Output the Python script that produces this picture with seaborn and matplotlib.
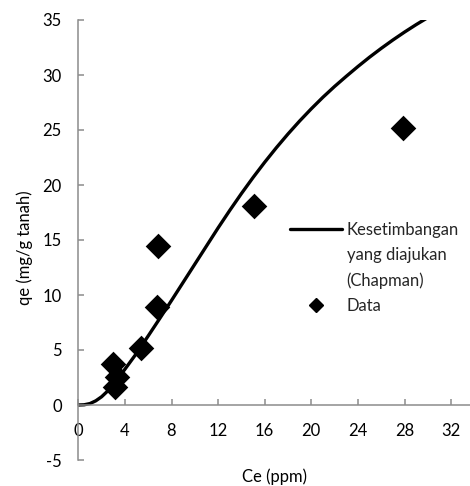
import numpy as np
import pandas as pd
import seaborn as sns
import matplotlib.pyplot as plt
from matplotlib.lines import Line2D

# Measured equilibrium data
ce_data = [2.98, 3.12, 3.32, 5.35, 6.73, 6.87, 15.08, 27.85]
qe_data = [3.7, 1.67, 2.57, 5.2, 8.94, 14.45, 18.1, 25.15]

# Proposed equilibrium curve (Chapman)
ce_model = [0.0, 0.5, 1.0, 1.5, 2.0, 2.5, 3.0, 3.5, 4.0, 5.0, 6.0, 7.0, 8.0,
            9.0, 10.0, 11.0, 12.0, 13.0, 14.0, 15.0, 16.0, 17.0, 18.0, 19.0,
            20.0, 21.0, 22.0, 23.0, 24.0, 25.0, 26.0, 27.0, 28.0, 29.0, 30.0,
            31.0]
qe_model = [0.0, 0.02, 0.13, 0.38, 0.75, 1.25, 1.85, 2.55, 3.25, 4.7, 6.28,
            7.88, 9.5, 11.15, 12.8, 14.45, 16.1, 17.69, 19.22, 20.68, 22.07,
            23.39, 24.64, 25.82, 26.93, 27.98, 28.96, 29.88, 30.77, 31.62,
            32.42, 33.18, 33.9, 34.58, 35.22, 35.82]

x_ticks = [0, 4, 8, 12, 16, 20, 24, 28, 32]
y_ticks = [-5, 0, 5, 10, 15, 20, 25, 30, 35]

model_df = pd.DataFrame({"Ce": ce_model, "qe": qe_model})
data_df = pd.DataFrame({"Ce": ce_data, "qe": qe_data})

sns.set_theme(style="white")
plt.rcParams['font.family'] = ['Lato', 'DejaVu Sans']
plt.rcParams['axes.unicode_minus'] = False

W, H = 470, 486
fig = plt.figure(figsize=(W / 100, H / 100), dpi=100)
ax = fig.add_axes([78.3 / W, 26 / H, 1 - 78.3 / W, 440 / H])

sns.lineplot(data=model_df, x="Ce", y="qe", sort=False, estimator=None,
             color="black", linewidth=2.4, ax=ax, legend=False)
sns.scatterplot(data=data_df, x="Ce", y="qe", marker="D", s=170,
                color="black", edgecolor="black", linewidth=0, ax=ax,
                legend=False, zorder=3)

ax.set_xlim(0, (W - 78.3) / 11.65)
ax.set_ylim(-5, 35)
ax.set_xticks(x_ticks)
ax.set_yticks(y_ticks)

axis_grey = "#8c8c8c"
for side in ("top", "right"):
    ax.spines[side].set_visible(False)
ax.spines["bottom"].set_position(("data", 0))
for side in ("left", "bottom"):
    ax.spines[side].set_color(axis_grey)
    ax.spines[side].set_linewidth(1.1)

ax.tick_params(axis="both", direction="in", length=4.5, width=1.1,
               color=axis_grey, labelsize=12, labelcolor="black")
ax.tick_params(axis="y", pad=12)
ax.tick_params(axis="x", pad=13)
ax.tick_params(axis="both", left=True, bottom=True)

ax.set_xlabel("Ce (ppm)", fontsize=12, color="black", va="center")
ax.set_ylabel("qe (mg/g tanah)", fontsize=12, color="black", va="center")
ax.xaxis.set_label_coords(0.5, -0.038)
ax.yaxis.set_label_coords(-0.136, 0.482)

blank = Line2D([], [], linestyle="none", marker=None)
handles = [Line2D([], [], color="black", linewidth=2.4), blank, blank,
           Line2D([], [], color="black", marker="D", linestyle="none",
                  markersize=7.5)]
labels = ["Kesetimbangan", "yang diajukan", "(Chapman)", "Data"]
fig.legend(handles, labels, loc="upper left",
           bbox_to_anchor=(290 / W, 1 - 222 / H), frameon=False,
           fontsize=12, handlelength=3.1, handletextpad=0.3,
           labelspacing=0.54, borderpad=0, borderaxespad=0)

fig.savefig("out.png", dpi=100)
